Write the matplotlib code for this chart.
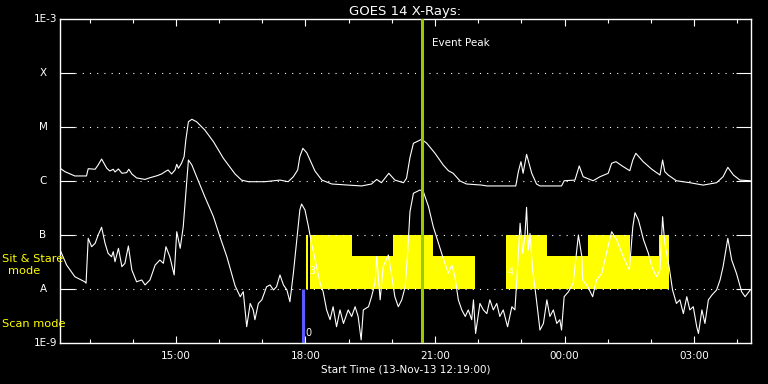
import numpy as np
import matplotlib
matplotlib.use("Agg")
import matplotlib.pyplot as plt

# GOES 14 x-ray flux, hours of day (13-Nov-13, >24 = next day), W/m^2
long_time = [12.32, 12.43, 12.66, 12.93, 12.97, 13.13, 13.20, 13.28, 13.40, 13.47,
             13.55, 13.59, 13.67, 13.75, 13.86, 13.91, 13.98, 14.09, 14.285, 14.40,
             14.56, 14.67, 14.75, 14.82, 14.90, 14.98, 15.02, 15.06, 15.13, 15.19,
             15.23, 15.29, 15.37, 15.48, 15.67, 15.87, 16.10, 16.37, 16.52, 16.68,
             17.06, 17.41, 17.60, 17.72, 17.82, 17.87, 17.94, 18.03, 18.14, 18.22,
             18.38, 18.61, 18.99, 19.30, 19.53, 19.65, 19.76, 19.93, 20.07, 20.27,
             20.34, 20.42, 20.50, 20.69, 20.81, 21.00, 21.19, 21.31, 21.42, 21.58,
             21.73, 22.08, 22.20, 22.87, 22.93, 22.99, 23.04, 23.12, 23.24, 23.35,
             23.43, 23.93, 23.99, 24.24, 24.34, 24.43, 24.66, 24.82, 25.01, 25.09,
             25.19, 25.36, 25.51, 25.58, 25.65, 25.82, 26.02, 26.21, 26.27, 26.32,
             26.40, 26.59, 26.90, 27.21, 27.52, 27.67, 27.78, 27.91, 28.06, 28.30]
long_flux = [1.72e-6, 1.49e-6, 1.24e-6, 1.24e-6, 1.69e-6, 1.65e-6, 1.98e-6, 2.55e-6, 1.72e-6, 1.53e-6,
             1.65e-6, 1.47e-6, 1.67e-6, 1.39e-6, 1.43e-6, 1.65e-6, 1.35e-6, 1.14e-6, 1.07e-6, 1.15e-6,
             1.25e-6, 1.35e-6, 1.49e-6, 1.60e-6, 1.35e-6, 1.60e-6, 2.04e-6, 1.72e-6, 2.13e-6, 2.82e-6,
             5.74e-6, 1.25e-5, 1.39e-5, 1.25e-5, 8.80e-6, 5.34e-6, 2.63e-6, 1.35e-6, 1.04e-6, 9.7e-7,
             9.7e-7, 1.04e-6, 9.7e-7, 1.20e-6, 1.60e-6, 2.82e-6, 4.03e-6, 3.34e-6, 2.13e-6, 1.53e-6,
             1.04e-6, 8.8e-7, 8.4e-7, 8.1e-7, 8.8e-7, 1.07e-6, 9.3e-7, 1.39e-6, 1.04e-6, 9.3e-7,
             1.12e-6, 2.72e-6, 4.99e-6, 5.92e-6, 4.99e-6, 3.26e-6, 1.98e-6, 1.55e-6, 1.39e-6, 1.0e-6,
             8.8e-7, 8.4e-7, 8.1e-7, 8.1e-7, 1.49e-6, 2.28e-6, 1.39e-6, 3.12e-6, 1.39e-6, 8.8e-7,
             8.1e-7, 8.1e-7, 1.01e-6, 1.04e-6, 1.90e-6, 1.20e-6, 1.01e-6, 1.20e-6, 1.39e-6, 2.13e-6,
             2.28e-6, 1.84e-6, 1.55e-6, 2.45e-6, 3.26e-6, 2.28e-6, 1.65e-6, 1.29e-6, 2.45e-6, 1.49e-6,
             1.29e-6, 1.01e-6, 9.3e-7, 8.4e-7, 9.3e-7, 1.20e-6, 1.79e-6, 1.29e-6, 1.04e-6, 1.01e-6]

short_time = [12.32, 12.47, 12.66, 12.89, 12.92, 12.97, 13.05, 13.13, 13.20, 13.28,
              13.36, 13.43, 13.51, 13.55, 13.59, 13.67, 13.75, 13.82, 13.90, 13.98,
              14.09, 14.21, 14.285, 14.40, 14.52, 14.63, 14.71, 14.77, 14.86, 14.96,
              15.02, 15.10, 15.17, 15.23, 15.29, 15.37, 15.48, 15.67, 15.87, 16.02,
              16.18, 16.37, 16.49, 16.56, 16.64, 16.72, 16.79, 16.83, 16.91, 16.99,
              17.10, 17.18, 17.26, 17.33, 17.41, 17.49, 17.57, 17.64, 17.72, 17.80,
              17.87, 17.91, 17.99, 18.07, 18.14, 18.26, 18.34, 18.41, 18.49, 18.57,
              18.64, 18.72, 18.80, 18.88, 18.99, 19.07, 19.15, 19.22, 19.29, 19.34,
              19.46, 19.53, 19.61, 19.65, 19.73, 19.80, 19.92, 20.00, 20.07, 20.15,
              20.23, 20.31, 20.37, 20.42, 20.50, 20.65, 20.73, 20.85, 20.96, 21.08,
              21.19, 21.31, 21.39, 21.46, 21.54, 21.62, 21.70, 21.77, 21.85, 21.89,
              21.94, 22.04, 22.12, 22.20, 22.27, 22.35, 22.43, 22.50, 22.58, 22.68,
              22.78, 22.85, 22.89, 22.97, 23.03, 23.08, 23.12, 23.16, 23.20, 23.26,
              23.34, 23.43, 23.51, 23.59, 23.66, 23.74, 23.82, 23.89, 23.93, 23.99,
              24.09, 24.20, 24.32, 24.40, 24.42, 24.54, 24.65, 24.74, 24.86, 24.97,
              25.09, 25.21, 25.36, 25.50, 25.58, 25.63, 25.71, 25.83, 25.94, 26.02,
              26.13, 26.21, 26.27, 26.32, 26.42, 26.50, 26.59, 26.67, 26.75, 26.83,
              26.90, 26.98, 27.06, 27.10, 27.18, 27.25, 27.33, 27.41, 27.52, 27.60,
              27.67, 27.78, 27.87, 27.98, 28.10, 28.18, 28.30]
short_flux = [5.27e-8, 2.78e-8, 1.69e-8, 1.36e-8, 1.28e-8, 8.69e-8, 6.07e-8, 7.02e-8, 1.0e-7, 1.39e-7,
              7.02e-8, 4.58e-8, 3.96e-8, 4.91e-8, 3.20e-8, 5.67e-8, 2.59e-8, 2.99e-8, 6.25e-8, 2.25e-8,
              1.36e-8, 1.47e-8, 1.19e-8, 1.47e-8, 2.78e-8, 3.44e-8, 2.99e-8, 6.07e-8, 3.96e-8, 1.82e-8,
              1.15e-7, 5.67e-8, 1.42e-7, 5.92e-7, 2.45e-6, 1.98e-6, 1.20e-6, 5.12e-7, 2.18e-7, 9.3e-8,
              3.96e-8, 1.15e-8, 7.2e-9, 8.9e-9, 2.0e-9, 5.4e-9, 4.1e-9, 2.7e-9, 5.4e-9, 6.3e-9,
              1.10e-8, 1.19e-8, 9.6e-9, 1.10e-8, 1.82e-8, 1.19e-8, 9.6e-9, 5.8e-9, 1.95e-8, 8.08e-8,
              2.90e-7, 3.75e-7, 2.90e-7, 1.42e-7, 7.02e-8, 2.59e-8, 1.28e-8, 8.9e-9, 4.1e-9, 2.7e-9,
              4.7e-9, 2.0e-9, 4.1e-9, 2.3e-9, 4.1e-9, 3.1e-9, 4.7e-9, 3.1e-9, 1.14e-9, 4.1e-9,
              4.7e-9, 7.2e-9, 1.28e-8, 3.96e-8, 6.3e-9, 2.59e-8, 4.26e-8, 1.69e-8, 7.2e-9, 4.7e-9,
              6.3e-9, 1.10e-8, 5.27e-8, 2.70e-7, 5.92e-7, 6.81e-7, 6.34e-7, 3.34e-7, 1.42e-7, 7.02e-8,
              3.70e-8, 1.95e-8, 2.78e-8, 1.69e-8, 6.3e-9, 4.1e-9, 3.1e-9, 4.1e-9, 2.7e-9, 6.3e-9,
              1.5e-9, 5.4e-9, 4.1e-9, 3.5e-9, 6.3e-9, 4.1e-9, 5.4e-9, 3.1e-9, 4.1e-9, 2.0e-9,
              4.7e-9, 4.1e-9, 1.28e-8, 1.65e-7, 4.58e-8, 9.3e-8, 3.26e-7, 5.27e-8, 1.07e-7, 2.25e-8,
              7.2e-9, 1.74e-9, 2.3e-9, 6.3e-9, 3.1e-9, 4.1e-9, 2.3e-9, 2.7e-9, 1.74e-9, 7.2e-9,
              8.9e-9, 1.28e-8, 1.0e-7, 3.96e-8, 1.47e-8, 1.10e-8, 7.2e-9, 1.47e-8, 1.95e-8, 4.58e-8,
              1.15e-7, 8.08e-8, 3.96e-8, 2.25e-8, 1.42e-7, 2.59e-7, 1.90e-7, 8.08e-8, 4.58e-8, 2.59e-8,
              1.69e-8, 2.25e-8, 2.18e-7, 7.02e-8, 2.59e-8, 9.6e-9, 5.4e-9, 6.3e-9, 3.5e-9, 7.2e-9,
              4.1e-9, 4.7e-9, 2.0e-9, 1.5e-9, 4.1e-9, 2.3e-9, 6.3e-9, 7.7e-9, 9.6e-9, 1.47e-8,
              2.59e-8, 8.69e-8, 3.44e-8, 1.95e-8, 8.9e-9, 7.2e-9, 9.6e-9]

# sit & stare mode blocks: start, end (hours), top level (W/m^2)
stare_start = [18.01, 18.11, 19.07, 20.03, 20.96, 22.64, 23.59, 24.55, 25.51, 26.19]
stare_end = [18.07, 19.07, 20.03, 20.96, 21.93, 23.59, 24.55, 25.51, 26.19, 26.41]
stare_top = [1e-7, 1e-7, 4.1e-8, 1e-7, 4.1e-8, 1e-7, 4.1e-8, 1e-7, 4.1e-8, 1e-7]
scan_time = 17.95
peak_time = 20.69

t_start, t_end = 12 + 19 / 60, 28 + 19 / 60
level_flux = [1e-8, 1e-7, 1e-6, 1e-5, 1e-4]
level_names = ["A", "B", "C", "M", "X"]

fig = plt.figure(figsize=(7.68, 3.84), dpi=100, facecolor="black")
ax = fig.add_axes([60 / 768, 41 / 384, 691 / 768, 324 / 384], facecolor="black")
ax.set_yscale("log")
ax.set_xlim(t_start, t_end)
ax.set_ylim(1e-9, 1e-3)

# yellow sit & stare blocks, blue scan mode bar
for s, e, top in zip(stare_start, stare_end, stare_top):
    ax.fill_between([s, e], 1e-8, top, color="#ffff00", lw=0, zorder=1)
ax.vlines(scan_time, 1e-9, 1e-8, color="#5a5aff", lw=2.2, zorder=2)

for f in level_flux:
    ax.axhline(f, xmin=15 / 691, xmax=1 - 15 / 691, color="white", lw=0.8,
               ls=(0, (1, 5.5)), zorder=1.5)

ax.plot(long_time, long_flux, color="white", lw=0.8, zorder=3)
ax.plot(short_time, short_flux, color="white", lw=0.8, zorder=3)
ax.axvline(peak_time, color="#99cc00", lw=2.2, zorder=4)
ax.text(peak_time + 0.23, 10 ** -3.45, "Event Peak", color="white", fontsize=7.5, va="center")

ax.text(18.17, 2.15e-8, "3", color="white", fontsize=7, ha="center", va="center", zorder=5)
ax.text(22.76, 2.1e-8, "4", color="#ffffcc", fontsize=7, ha="center", va="center", zorder=5)
ax.text(18.07, 1.5e-9, "0", color="white", fontsize=7, ha="center", va="center", zorder=5)

# y axis: letter classes
ax.set_yticks(level_flux)
ax.set_yticks([], minor=True)
ax.tick_params(axis="y", which="major", direction="in", length=10.8, width=0.8,
               color="white", left=True, right=True, labelleft=False)
ytr = ax.get_yaxis_transform()
for f, name in zip(level_flux, level_names):
    ax.text(-17 / 691, f, name, transform=ytr, color="white", fontsize=7.5,
            ha="center", va="center")
ax.text(-3 / 691, 1e-3, "1E-3", transform=ytr, color="white", fontsize=7.5, ha="right", va="center")
ax.text(-3 / 691, 1e-9, "1E-9", transform=ytr, color="white", fontsize=7.5, ha="right", va="center")
ax.text(-58 / 691, 10 ** -7.45, "Sit & Stare", transform=ytr, color="#ffff00", fontsize=8.2,
        ha="left", va="center", clip_on=False)
ax.text(-36 / 691, 10 ** -7.66, "mode", transform=ytr, color="#ffff00", fontsize=8.2,
        ha="center", va="center", clip_on=False)
ax.text(-58 / 691, 10 ** -8.64, "Scan mode", transform=ytr, color="#ffff00", fontsize=8.2,
        ha="left", va="center", clip_on=False)

# x axis: hourly ticks, labels every 3 h
major_hours = [15, 18, 21, 24, 27]
minor_hours = [13, 14, 16, 17, 19, 20, 22, 23, 25, 26, 28]
ax.set_xticks(major_hours)
ax.set_xticklabels([f"{h % 24:02d}:00" for h in major_hours])
ax.set_xticks(minor_hours, minor=True)
ax.tick_params(axis="x", which="major", direction="in", length=5, width=0.8, color="white",
               top=True, bottom=True, labelcolor="white", labelsize=7.5, pad=6)
ax.tick_params(axis="x", which="minor", direction="in", length=3, width=0.8, color="white",
               top=True, bottom=True)
for sp in ax.spines.values():
    sp.set_color("white")
    sp.set_linewidth(1)

ax.set_xlabel("Start Time (13-Nov-13 12:19:00)", color="white", fontsize=7.5, labelpad=2)
ax.set_title("GOES 14 X-Rays:", color="white", fontsize=9.5, pad=3)

plt.savefig("out.png", dpi=100, facecolor="black")
